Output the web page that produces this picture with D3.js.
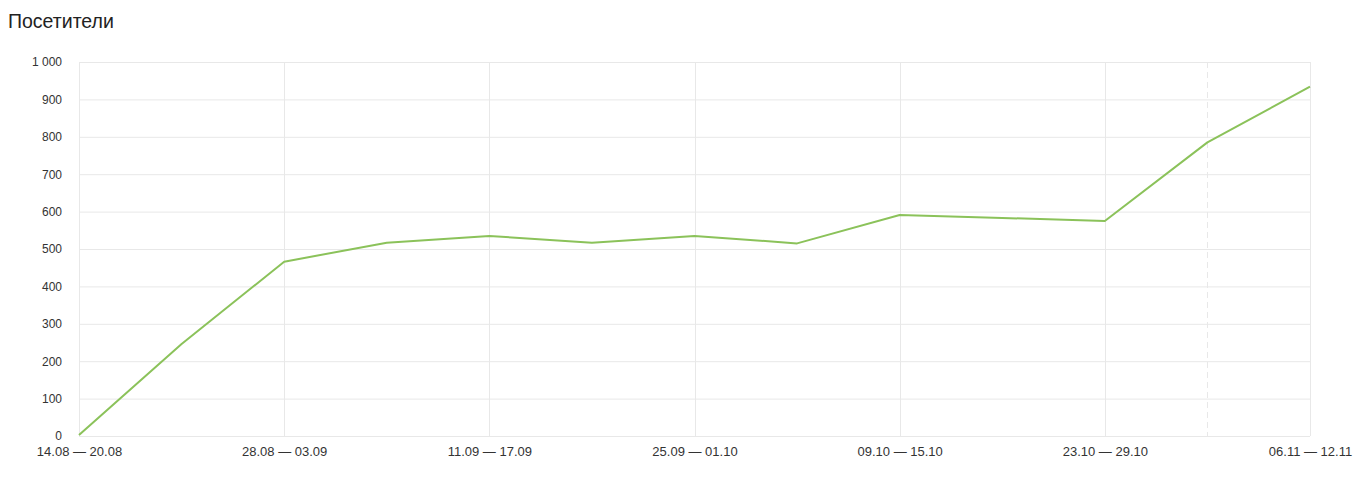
<!DOCTYPE html>
<html>
<head>
<meta charset="utf-8">
<script src="https://cdn.jsdelivr.net/npm/d3@7"></script>
<style>
  body { margin: 0; background: #fff; }
  svg { font-family: Arial, "Liberation Sans", sans-serif; }
</style>
</head>
<body>
<svg width="1358" height="487"></svg>
<script>
// data
var weeks = ["14.08 — 20.08", "21.08 — 27.08", "28.08 — 03.09", "04.09 — 10.09",
  "11.09 — 17.09", "18.09 — 24.09", "25.09 — 01.10", "02.10 — 08.10",
  "09.10 — 15.10", "16.10 — 22.10", "23.10 — 29.10", "30.10 — 05.11", "06.11 — 12.11"];
var visitors = [3, 246, 466, 517, 535, 517, 535, 515, 591, 583, 575, 785, 934];
var yTicks = [0, 100, 200, 300, 400, 500, 600, 700, 800, 900, 1000];

var svg = d3.select("svg"),
  margin = {top: 62, right: 48, bottom: 51, left: 79},
  width = +svg.attr("width") - margin.left - margin.right,
  height = +svg.attr("height") - margin.top - margin.bottom;

svg.append("text")
  .attr("x", 8).attr("y", 28)
  .attr("font-size", 19.5)
  .attr("fill", "#222")
  .text("Посетители");

var g = svg.append("g").attr("transform", "translate(" + margin.left + "," + margin.top + ")");

var x = d3.scalePoint().domain(weeks).range([0, width]);
var y = d3.scaleLinear().domain([0, 1000]).range([height, 0]);

// horizontal grid
g.append("g")
  .selectAll("line")
  .data(yTicks)
  .enter().append("line")
    .attr("x1", 0).attr("x2", width)
    .attr("y1", function(d) { return y(d) + 0.5; })
    .attr("y2", function(d) { return y(d) + 0.5; })
    .attr("stroke", "#e8e8e8");

// vertical grid: every other week, plus the dashed one for the incomplete week
g.append("g")
  .selectAll("line")
  .data(weeks.filter(function(d, i) { return i % 2 == 0 || i == 11; }))
  .enter().append("line")
    .attr("x1", function(d) { return Math.round(x(d)) + 0.5; })
    .attr("x2", function(d) { return Math.round(x(d)) + 0.5; })
    .attr("y1", 0).attr("y2", height)
    .attr("stroke", "#e8e8e8")
    .attr("stroke-dasharray", function(d) { return weeks.indexOf(d) == 11 ? "6,4" : null; });

// y axis labels
var yAxis = g.append("g")
  .call(d3.axisLeft(y).tickValues(yTicks).tickSize(0).tickPadding(17)
    .tickFormat(function(d) { return d3.format(",")(d).replace(",", " "); }));
yAxis.select(".domain").remove();
yAxis.selectAll("text").attr("font-size", 12).attr("fill", "#333").attr("font-family", "Arial, 'Liberation Sans', sans-serif");

// x axis labels
var xAxis = g.append("g")
  .attr("transform", "translate(0," + height + ")")
  .call(d3.axisBottom(x).tickValues(weeks.filter(function(d, i) { return i % 2 == 0; }))
    .tickSize(0).tickPadding(11));
xAxis.select(".domain").remove();
xAxis.selectAll("text").attr("font-size", 13).attr("fill", "#333").attr("font-family", "Arial, 'Liberation Sans', sans-serif");

// line
var line = d3.line()
  .x(function(d, i) { return x(weeks[i]); })
  .y(function(d) { return y(d); });

g.append("path")
  .datum(visitors)
  .attr("d", line)
  .attr("fill", "none")
  .attr("stroke", "#8bc25a")
  .attr("stroke-width", 2)
  .attr("stroke-linejoin", "round");
</script>
</body>
</html>
